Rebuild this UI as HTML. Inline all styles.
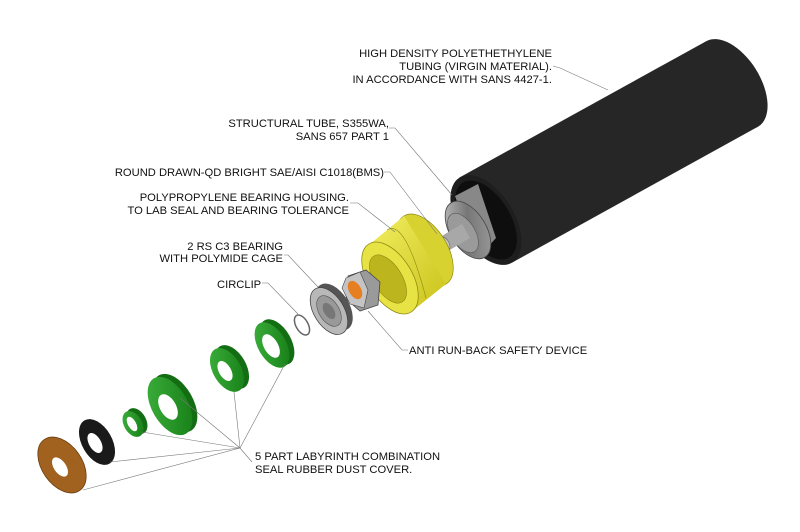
<!DOCTYPE html>
<html><head><meta charset="utf-8"><style>
html,body{margin:0;padding:0;background:#fff;}
svg{display:block;}
text{font-family:"Liberation Sans",Arial,sans-serif;font-size:11.2px;fill:#111;}
</style></head><body>
<svg width="800" height="532" viewBox="0 0 800 532" xmlns="http://www.w3.org/2000/svg">
<defs>
<linearGradient id="stl" x1="0" y1="0" x2="1" y2="1"><stop offset="0" stop-color="#c8c8c8"/><stop offset="0.5" stop-color="#777"/><stop offset="1" stop-color="#a0a0a0"/></linearGradient>
<linearGradient id="yel" x1="0" y1="0" x2="1" y2="1"><stop offset="0" stop-color="#f2ee60"/><stop offset="1" stop-color="#c9c21a"/></linearGradient>
<linearGradient id="grn" x1="0" y1="0" x2="1" y2="1"><stop offset="0" stop-color="#3fb33f"/><stop offset="1" stop-color="#137a13"/></linearGradient>
</defs>

<!-- black HDPE tube -->
<ellipse cx="732" cy="84" rx="28" ry="50" transform="rotate(-32 732 84)" fill="#262626"/>
<polygon points="459.5,177.5 705.5,41.6 758.5,126.4 512.5,262.4" fill="#262626"/>
<ellipse cx="486" cy="220" rx="28" ry="50" transform="rotate(-32 486 220)" fill="#1e1e1e"/>
<ellipse cx="486" cy="220" rx="24" ry="44" transform="rotate(-32 486 220)" fill="#0e0e0e"/>
<!-- steel tube -->
<polygon points="455,196 478,184 496,238 478,258" fill="#888"/>
<ellipse cx="468" cy="230" rx="18" ry="32" transform="rotate(-32 468 230)" fill="url(#stl)" stroke="#444" stroke-width="0.8"/>
<ellipse cx="463" cy="233" rx="12" ry="22" transform="rotate(-32 463 233)" fill="#9a9a9a" stroke="#555" stroke-width="0.6"/>
<!-- shaft -->
<polygon points="440,237 462,224 470,238 448,251" fill="#a8a8a8"/>
<ellipse cx="444" cy="244" rx="5" ry="8" transform="rotate(-32 444 244)" fill="#c8c8c8" stroke="#666" stroke-width="0.6"/>

<!-- yellow housing -->
<ellipse cx="425" cy="250" rx="22" ry="40" transform="rotate(-32 425 250)" fill="#d8d230" stroke="#8f8a10" stroke-width="0.7"/>
<polygon points="370,244 404,216 446,284 411,312" fill="url(#yel)"/>
<path d="M387,230 Q405,218 426,298" stroke="#8f8a10" stroke-width="0.6" fill="none"/>
<ellipse cx="390" cy="278" rx="22" ry="40" transform="rotate(-32 390 278)" fill="#e8e345" stroke="#8f8a10" stroke-width="0.8"/>
<ellipse cx="388" cy="279" rx="14" ry="27" transform="rotate(-32 388 279)" fill="#bdb51e" stroke="#8f8a10" stroke-width="0.6"/>
<!-- nut -->
<polygon points="348,276 366,270 380,282 378,305 360,311 346,299" fill="#9a9a9a" stroke="#444" stroke-width="0.8"/>
<polygon points="346,278 360,272 368,290 364,308 350,304 342,288" fill="#c4c4c4" stroke="#444" stroke-width="0.6"/>
<ellipse cx="355" cy="290" rx="6" ry="10" transform="rotate(-30 355 290)" fill="#e67e22"/>

<!-- bearing -->
<ellipse cx="334" cy="307" rx="15" ry="26" transform="rotate(-32 334 307)" fill="#555"/>
<ellipse cx="329" cy="311" rx="15" ry="26" transform="rotate(-32 329 311)" fill="#b8b8b8" stroke="#444" stroke-width="0.8"/>
<ellipse cx="329" cy="311" rx="10" ry="17" transform="rotate(-32 329 311)" fill="#999" stroke="#555" stroke-width="0.6"/>
<ellipse cx="329" cy="311" rx="5" ry="9" transform="rotate(-32 329 311)" fill="#777"/>
<!-- circlip -->
<ellipse cx="302" cy="325" rx="6" ry="11" transform="rotate(-30 302 325)" fill="none" stroke="#666" stroke-width="1.5"/>

<!-- green seals -->
<ellipse cx="277" cy="342" rx="14" ry="25" transform="rotate(-30 277 342)" fill="#136e13"/>
<ellipse cx="272" cy="345" rx="14" ry="25" transform="rotate(-30 272 345)" fill="url(#grn)"/>
<ellipse cx="271" cy="346" rx="7" ry="13" transform="rotate(-30 271 346)" fill="#fff"/>
<ellipse cx="232" cy="367" rx="14" ry="24" transform="rotate(-30 232 367)" fill="#136e13"/>
<ellipse cx="227" cy="370" rx="14" ry="24" transform="rotate(-30 227 370)" fill="url(#grn)"/>
<ellipse cx="225" cy="371" rx="6" ry="11" transform="rotate(-30 225 371)" fill="#fff"/>
<ellipse cx="175" cy="403" rx="18" ry="32" transform="rotate(-30 175 403)" fill="#136e13"/>
<ellipse cx="170" cy="406" rx="18" ry="32" transform="rotate(-30 170 406)" fill="url(#grn)"/>
<ellipse cx="168" cy="407" rx="8" ry="14" transform="rotate(-30 168 407)" fill="#fff"/>
<ellipse cx="137" cy="421" rx="9" ry="14" transform="rotate(-30 137 421)" fill="#136e13"/>
<ellipse cx="133" cy="424" rx="9" ry="14" transform="rotate(-30 133 424)" fill="url(#grn)"/>
<ellipse cx="132" cy="424" rx="4" ry="8" transform="rotate(-30 132 424)" fill="#fff"/>
<!-- black seal -->
<ellipse cx="97" cy="442" rx="15" ry="25" transform="rotate(-30 97 442)" fill="#1a1a1a"/>
<ellipse cx="95" cy="443" rx="6" ry="11" transform="rotate(-30 95 443)" fill="#fff"/>
<!-- brown cover -->
<ellipse cx="62" cy="465" rx="20" ry="31" transform="rotate(-35 62 465)" fill="#a0621e" stroke="#6b3e10" stroke-width="0.8"/>
<ellipse cx="60" cy="467" rx="6" ry="11" transform="rotate(-35 60 467)" fill="#fff"/>

<!-- leaders -->
<g stroke="#777" stroke-width="0.6" fill="none">
<polyline points="553,66 560,68 608,90"/>
<polyline points="389,128 395,128 452,195"/>
<polyline points="384,172 390,172 437,234"/>
<polyline points="350,203 358,203 395,232"/>
<polyline points="284,255 288,255 318,287"/>
<polyline points="262,283 268,283 298,314"/>
<polyline points="408,350 402,350 368,311"/>
<polyline points="252,462 240,448 83,490"/>
<polyline points="240,448 110,462"/>
<polyline points="240,448 142,432"/>
<polyline points="240,448 180,398"/>
<polyline points="240,448 234,392"/>
<polyline points="240,448 285,364"/>
</g>

<!-- labels -->
<text x="552" y="57" text-anchor="end">HIGH DENSITY POLYETHETHYLENE</text>
<text x="552" y="70" text-anchor="end">TUBING (VIRGIN MATERIAL).</text>
<text x="552" y="83" text-anchor="end">IN ACCORDANCE WITH SANS 4427-1.</text>
<text x="389" y="127" text-anchor="end">STRUCTURAL TUBE, S355WA,</text>
<text x="389" y="140" text-anchor="end">SANS 657 PART 1</text>
<text x="384" y="176" text-anchor="end">ROUND DRAWN-QD BRIGHT SAE/AISI C1018(BMS)</text>
<text x="349" y="201" text-anchor="end">POLYPROPYLENE BEARING HOUSING.</text>
<text x="349" y="214" text-anchor="end">TO LAB SEAL AND BEARING TOLERANCE</text>
<text x="283" y="250" text-anchor="end">2 RS C3 BEARING</text>
<text x="283" y="262" text-anchor="end">WITH POLYMIDE CAGE</text>
<text x="217" y="288">CIRCLIP</text>
<text x="409" y="354">ANTI RUN-BACK SAFETY DEVICE</text>
<text x="255" y="460">5 PART LABYRINTH COMBINATION</text>
<text x="255" y="473">SEAL RUBBER DUST COVER.</text>
</svg>
</body></html>
